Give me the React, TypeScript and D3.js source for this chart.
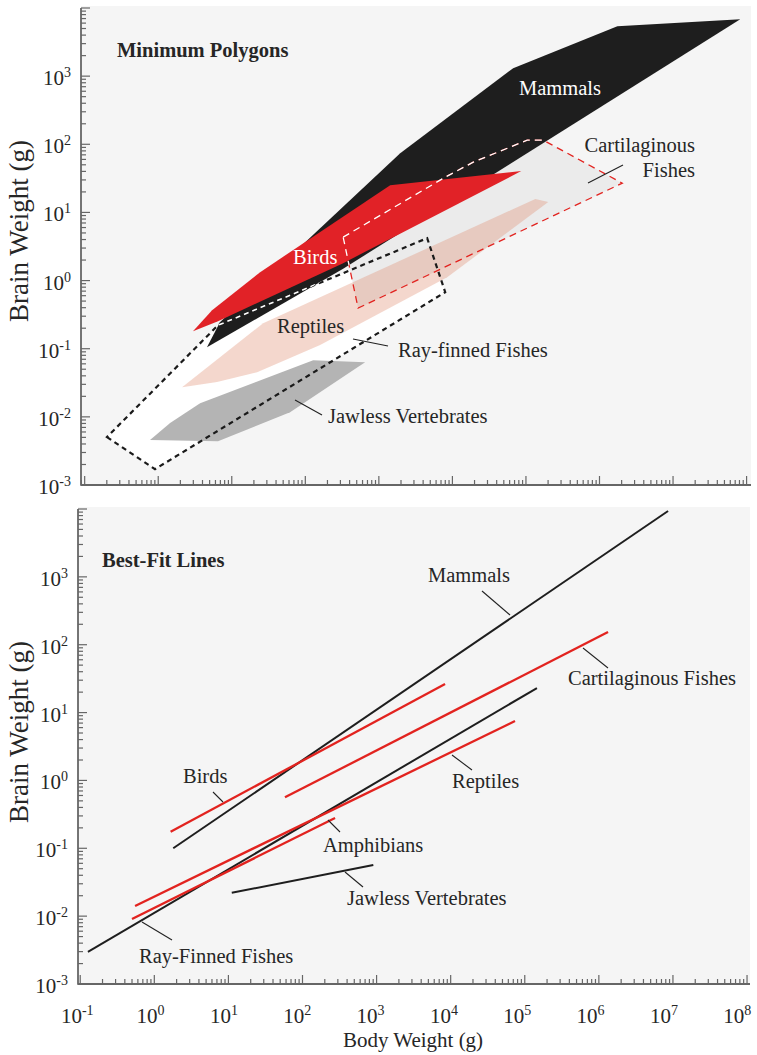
import { useEffect, useRef } from "react";
import * as d3 from "d3";

type P = [number, number]; // [body weight g, brain weight g]

// ---- top panel: minimum polygons ----
const mammalsPoly: P[] = [
  [4.6, 0.105], [6.9, 0.245], [1950, 74], [67000, 1310],
  [1.75e6, 5400], [8.2e7, 6850], [327, 1.49],
];
const birdsPoly: P[] = [
  [2.97, 0.181], [5.4, 0.368], [24.3, 1.33], [1425, 25.1],
  [86300, 40.4], [327, 1.8], [6.5, 0.254],
];
const cartilaginousPoly: P[] = [
  [327, 4.34], [7980, 32.9], [19200, 54.7], [104000, 115],
  [172000, 115], [2.04e6, 26.9], [522, 0.394],
];
const rayFinnedPoly: P[] = [
  [0.201, 0.00505], [0.904, 0.00171], [7980, 0.676], [4540, 4.19], [6.5, 0.221],
];
const reptilesPoly: P[] = [
  [2.11, 0.0273], [26.7, 0.237], [134000, 15.7], [201000, 14.2],
  [8490, 1.12], [159, 0.113], [22.1, 0.0453], [6.3, 0.0324],
];
const jawlessPoly: P[] = [
  [0.774, 0.00456], [1.45, 0.0081], [3.71, 0.0159], [128, 0.0679],
  [650, 0.0635], [62, 0.0117], [6.5, 0.0044],
];

// ---- bottom panel: best-fit lines ----
const mammalsFit: P[] = [[1.8, 0.1], [8.6e6, 9330]];
const birdsFit: P[] = [[1.66, 0.175], [8400, 26.4]];
const cartilaginousFit: P[] = [[58, 0.564], [1.33e6, 154]];
const reptilesFit: P[] = [[0.55, 0.0141], [73800, 7.5]];
const amphibiansFit: P[] = [[0.5, 0.00908], [275, 0.279]];
const rayFinnedFit: P[] = [[0.127, 0.00298], [146000, 23]];
const jawlessFit: P[] = [[11.1, 0.0221], [904, 0.0566]];

const xTickExps = [-1, 0, 1, 2, 3, 4, 5, 6, 7, 8];
const yTickExps = [-3, -2, -1, 0, 1, 2, 3];

const FONT = "'Liberation Serif', 'Times New Roman', serif";
const INK = "#262626";
const RED = "#e2231f";

export default function App() {
  const ref = useRef<SVGSVGElement>(null);

  useEffect(() => {
    const svg = d3.select(ref.current);
    svg.selectAll("*").remove();
    svg.attr("font-family", FONT);

    const drawAxes = (g: any, x: any, y: any, xLabels: boolean) => {
      const [x0, x1] = x.range();
      const [y1, y0] = y.range();
      g.append("rect").attr("x", x0).attr("y", y0 - 2).attr("width", x1 - x0).attr("height", y1 - y0 + 3).attr("fill", "#f5f5f5");

      const ax = g.append("g").attr("stroke", "#666").attr("fill", "none");
      // x ticks: decades plus 2..9 minors
      for (let k = -2; k <= 8; k++) {
        for (let m = 1; m <= 9; m++) {
          const v = m * Math.pow(10, k);
          if (v < x.domain()[0] || v > x.domain()[1]) continue;
          const px = x(v);
          ax.append("line").attr("x1", px).attr("x2", px).attr("y1", y1).attr("y2", y1 - (m === 1 ? 9 : 5)).attr("stroke-width", 1.2);
        }
      }
      for (let k = -4; k <= 4; k++) {
        for (let m = 1; m <= 9; m++) {
          const v = m * Math.pow(10, k);
          if (v < y.domain()[0] * 0.999 || v > y.domain()[1] * 1.001) continue;
          const py = y(v);
          ax.append("line").attr("y1", py).attr("y2", py).attr("x1", x0).attr("x2", x0 + (m === 1 ? 9 : 5)).attr("stroke-width", 1.2);
        }
      }
      ax.append("line").attr("x1", x0).attr("x2", x0).attr("y1", y0).attr("y2", y1 + 0.75).attr("stroke-width", 1.8);
      ax.append("line").attr("x1", x0).attr("x2", x1).attr("y1", y1).attr("y2", y1).attr("stroke-width", 1.8);

      yTickExps.forEach((e) => {
        const t = g.append("text").attr("x", x0 - 10).attr("y", y(Math.pow(10, e)) + 9)
          .attr("text-anchor", "end").attr("font-size", 21).attr("fill", INK);
        t.append("tspan").text("10");
        t.append("tspan").attr("dy", -8).attr("font-size", 14).text(String(e));
      });
      if (xLabels) {
        xTickExps.forEach((e, i) => {
          const t = g.append("text").attr("x", x(Math.pow(10, e)) - 3 - i * 0.75).attr("y", y1 + 39)
            .attr("text-anchor", "middle").attr("font-size", 21).attr("fill", INK);
          t.append("tspan").text("10");
          t.append("tspan").attr("dy", -8).attr("font-size", 14).text(String(e));
        });
      }
    };

    const label = (g: any, px: number, py: number, txt: string, color = INK, anchor = "start") =>
      g.append("text").attr("x", px).attr("y", py).attr("font-size", 20.5).attr("fill", color).attr("text-anchor", anchor).text(txt);
    const leader = (g: any, a: number, b: number, c: number, d: number) =>
      g.append("line").attr("x1", a).attr("y1", b).attr("x2", c).attr("y2", d).attr("stroke", "#222").attr("stroke-width", 1.1);

    // ===== top panel =====
    const xT = d3.scaleLog().domain([Math.pow(10, -1.05), Math.pow(10, 8.06)]).range([81, 751]);
    const yT = d3.scaleLog().domain([1e-3, 1e4]).range([485, 8]);
    const gT = svg.append("g");
    drawAxes(gT, xT, yT, false);
    const polyT = d3.line<P>().x((d) => xT(d[0])).y((d) => yT(d[1]));
    const closed = (p: P[]) => polyT(p) + "Z";

    gT.append("path").attr("d", closed(rayFinnedPoly)).attr("fill", "#ffffff");
    gT.append("path").attr("d", closed(cartilaginousPoly)).attr("fill", "#ebebeb");
    gT.append("path").attr("d", closed(reptilesPoly)).attr("fill", "rgb(224,141,112)").attr("fill-opacity", 0.35);
    gT.append("path").attr("d", closed(jawlessPoly)).attr("fill", "#b4b4b4");
    gT.append("path").attr("d", closed(mammalsPoly)).attr("fill", "#1e1e1e");
    gT.append("path").attr("d", closed(birdsPoly)).attr("fill", "#e12227");

    svg.append("defs").append("clipPath").attr("id", "mamClip")
      .append("path").attr("d", closed(mammalsPoly));

    // outlines on top; the parts lying over the black mammal area are drawn white
    gT.append("path").attr("d", closed(cartilaginousPoly)).attr("fill", "none")
      .attr("stroke", RED).attr("stroke-width", 1.3).attr("stroke-dasharray", "7,5");
    gT.append("path").attr("d", closed(cartilaginousPoly)).attr("fill", "none").attr("clip-path", "url(#mamClip)")
      .attr("stroke", "#fff").attr("stroke-width", 1.3).attr("stroke-dasharray", "7,5");
    gT.append("path").attr("d", closed(rayFinnedPoly)).attr("fill", "none")
      .attr("stroke", "#1a1a1a").attr("stroke-width", 2.2).attr("stroke-dasharray", "5,4");
    gT.append("path").attr("d", closed(rayFinnedPoly)).attr("fill", "none").attr("clip-path", "url(#mamClip)")
      .attr("stroke", "#fff").attr("stroke-width", 1.6).attr("stroke-dasharray", "5,4");

    gT.append("text").attr("x", 117).attr("y", 57).attr("font-size", 20.5).attr("font-weight", "bold").attr("fill", INK).text("Minimum Polygons");
    label(gT, 519, 95, "Mammals", "#ffffff");
    label(gT, 695, 152, "Cartilaginous", INK, "end");
    label(gT, 695, 177, "Fishes", INK, "end");
    leader(gT, 588, 183, 623, 165);
    label(gT, 293, 264, "Birds", "#ffffff");
    label(gT, 277, 333, "Reptiles");
    label(gT, 398, 357, "Ray-finned Fishes");
    leader(gT, 353, 339, 388, 346);
    label(gT, 328, 423, "Jawless Vertebrates");
    leader(gT, 295, 400, 322, 415);

    // ===== bottom panel =====
    const xB = d3.scaleLog().domain([Math.pow(10, -1.03), Math.pow(10, 8.04)]).range([78, 750]);
    const yB = d3.scaleLog().domain([1e-3, 1e4]).range([984, 509]);
    const gB = svg.append("g");
    drawAxes(gB, xB, yB, true);
    const lineB = d3.line<P>().x((d) => xB(d[0])).y((d) => yB(d[1]));

    const fits: { pts: P[]; color: string; w: number }[] = [
      { pts: rayFinnedFit, color: "#1e1e1e", w: 2 },
      { pts: mammalsFit, color: "#1e1e1e", w: 2 },
      { pts: jawlessFit, color: "#1e1e1e", w: 2 },
      { pts: birdsFit, color: RED, w: 2.3 },
      { pts: cartilaginousFit, color: RED, w: 2.3 },
      { pts: reptilesFit, color: RED, w: 2.3 },
      { pts: amphibiansFit, color: RED, w: 2.3 },
    ];
    gB.selectAll("path.fit").data(fits).join("path").attr("class", "fit")
      .attr("d", (d) => lineB(d.pts)).attr("fill", "none")
      .attr("stroke", (d) => d.color).attr("stroke-width", (d) => d.w);

    gB.append("text").attr("x", 102).attr("y", 567).attr("font-size", 20.5).attr("font-weight", "bold").attr("fill", INK).text("Best-Fit Lines");
    label(gB, 428, 582, "Mammals");
    leader(gB, 482, 591, 510, 615);
    label(gB, 736, 685, "Cartilaginous Fishes", INK, "end");
    leader(gB, 583, 648, 608, 668);
    label(gB, 183, 783, "Birds");
    leader(gB, 213, 792, 223, 802);
    label(gB, 452, 788, "Reptiles");
    leader(gB, 452, 755, 472, 770);
    label(gB, 323, 852, "Amphibians");
    leader(gB, 328, 820, 340, 832);
    label(gB, 347, 905, "Jawless Vertebrates");
    leader(gB, 345, 872, 363, 887);
    label(gB, 139, 963, "Ray-Finned Fishes");
    leader(gB, 142, 922, 172, 940);

    // axis titles
    svg.append("text").attr("transform", "translate(28,231) rotate(-90)").attr("text-anchor", "middle")
      .attr("font-size", 27).attr("fill", INK).text("Brain Weight (g)");
    svg.append("text").attr("transform", "translate(28,732) rotate(-90)").attr("text-anchor", "middle")
      .attr("font-size", 27).attr("fill", INK).text("Brain Weight (g)");
    svg.append("text").attr("x", 413).attr("y", 1047).attr("text-anchor", "middle")
      .attr("font-size", 21).attr("fill", INK).text("Body Weight (g)");
  }, []);

  return (
    <svg ref={ref} width={757} height={1055}
      style={{ position: "absolute", left: 0, top: 0, background: "#ffffff" }} />
  );
}
